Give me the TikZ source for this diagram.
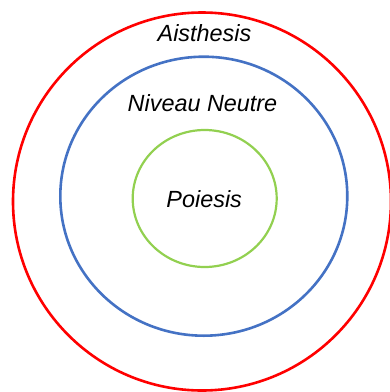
\documentclass[tikz,border=0pt]{standalone}
\usepackage{fontspec}
\setmainfont{Liberation Sans}
\usepackage{xcolor}
\usepackage{tikz}
\usetikzlibrary{shapes.geometric}
\definecolor{aisthred}{HTML}{FF0000}
\definecolor{neutreblue}{HTML}{4472C4}
\definecolor{poiesisgreen}{HTML}{92D050}

\begin{document}
\begin{tikzpicture}[x=1pt,y=-1pt, font=\itshape\fontsize{23.4}{28}\selectfont,
 ring/.style={draw=#1,ellipse,inner sep=0pt,fill=none},
 lbl/.style={anchor=base,inner sep=0pt}]
\useasboundingbox (0,0) rectangle (390,392);
\node[ring=aisthred,line width=2.6pt,minimum width=378pt,minimum height=378pt] (aisth) at (202,201.5) {};
\node[ring=neutreblue,line width=2.6pt,minimum width=287pt,minimum height=279pt] (neutre) at (203.8,196.2) {};
\node[ring=poiesisgreen,line width=2.2pt,minimum width=144pt,minimum height=137pt] (poiesis) at (204.7,198.5) {};
\node[lbl] (aisthlbl) at (204.5,41.8) {Aisthesis};
\node[lbl] (neutrelbl) at (202.5,111.5) {Niveau Neutre};
\node[lbl] (poiesislbl) at (204.2,207.8) {Poiesis};
\end{tikzpicture}
\end{document}
